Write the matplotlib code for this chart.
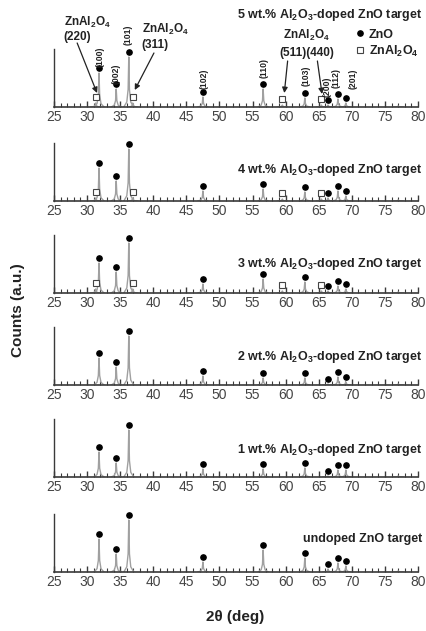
import matplotlib
matplotlib.use("Agg")
import matplotlib.pyplot as plt
import numpy as np
from matplotlib.lines import Line2D

plt.rcParams['font.family'] = ['Liberation Sans', 'DejaVu Sans']
plt.rcParams['mathtext.fontset'] = 'custom'
plt.rcParams['mathtext.rm'] = 'Liberation Sans:bold'
plt.rcParams['mathtext.bf'] = 'Liberation Sans:bold'
plt.rcParams['mathtext.default'] = 'bf'

# ---- data ----
zno_pos = [31.8, 34.4, 36.3, 47.5, 56.6, 62.9, 66.4, 67.9, 69.1]
spinel_pos = [31.3, 36.9, 59.5, 65.4]
samples = ["5 wt.% Al$_2$O$_3$-doped ZnO target",
           "4 wt.% Al$_2$O$_3$-doped ZnO target",
           "3 wt.% Al$_2$O$_3$-doped ZnO target",
           "2 wt.% Al$_2$O$_3$-doped ZnO target",
           "1 wt.% Al$_2$O$_3$-doped ZnO target",
           "undoped ZnO target"]
zno_int_5 = [34, 18, 50, 10, 18, 9, 2, 8, 4]
zno_int_4 = [33, 20, 52, 10, 12, 9, 3, 10, 5]
zno_int_3 = [30, 21, 50, 9, 14, 11, 2, 7, 4]
zno_int_2 = [27, 18, 49, 9, 7, 7, 1, 8, 3]
zno_int_1 = [25, 14, 47, 8, 8, 9, 1, 7, 7]
zno_int_0 = [33, 18, 52, 10, 22, 14, 3, 9, 6]
spinel_int_5 = [4, 4, 2, 2]
spinel_int_4 = [3, 3, 2, 2]
spinel_int_3 = [4, 4, 2, 2]
minor_pos = [77.0]
minor_int = [1]
zno_hkl = ["(100)", "(002)", "(101)", "(102)", "(110)", "(103)", "(200)", "(112)", "(201)"]
xticks = [25, 30, 35, 40, 45, 50, 55, 60, 65, 70, 75, 80]

zno_ints = [zno_int_5, zno_int_4, zno_int_3, zno_int_2, zno_int_1, zno_int_0]
spinel_ints = [spinel_int_5, spinel_int_4, spinel_int_3, None, None, None]

# ---- layout ----
W, H = 427, 631
fig = plt.figure(figsize=(W / 100, H / 100), dpi=100)
x0_px, x1_px = 54, 418
axis_px = [107, 201, 293, 385, 477, 572]
panel_h = 58
title_dy = [92, 31, 29, 28, 27, 33]

line_col = '#a0a0a0'
spine_col = '#3a3a3a'
prof_dx = np.array([-0.75, -0.3, -0.1, 0.0, 0.1, 0.3, 0.75])
prof_fy = np.array([0.0, 0.1, 0.35, 1.0, 0.35, 0.1, 0.0])

def draw_peak(ax, p, h):
    ax.plot(p + prof_dx, h * prof_fy, color=line_col, lw=1.0, solid_joinstyle='round')

axes = []
for i, yb in enumerate(axis_px):
    ax = fig.add_axes([x0_px / W, 1 - yb / H, (x1_px - x0_px) / W, panel_h / H])
    axes.append(ax)
    ax.set_xlim(25, 80)
    ax.set_ylim(0, panel_h)
    for s in ['top', 'right']:
        ax.spines[s].set_visible(False)
    ax.spines['left'].set_color(spine_col)
    ax.spines['bottom'].set_color(spine_col)
    ax.spines['left'].set_linewidth(1.0)
    ax.spines['bottom'].set_linewidth(1.2)
    ax.set_yticks([])
    ax.set_xticks(xticks)
    ax.set_xticks(np.arange(25, 81, 1), minor=True)
    ax.tick_params(axis='x', which='major', direction='in', length=4, width=1.0,
                   color=spine_col, labelsize=10, labelcolor='#444444', pad=2.5)
    ax.tick_params(axis='x', which='minor', direction='in', length=2.8, width=0.8,
                   color=spine_col)
    ax.patch.set_alpha(0)

    # spectrum
    ax.plot([25, 80], [0.3, 0.3], color=line_col, lw=0.8)
    for p, h in zip(zno_pos, zno_ints[i]):
        draw_peak(ax, p, h)
    for p, h in zip(minor_pos, minor_int):
        draw_peak(ax, p, h)
    if spinel_ints[i] is not None:
        for p, h in zip(spinel_pos, spinel_ints[i]):
            draw_peak(ax, p, h)
        ax.plot(spinel_pos, np.array(spinel_ints[i]) + 6, ls='none', marker='s',
                ms=4, mfc='white', mec='#444444', mew=0.8, clip_on=False)
    ax.plot(zno_pos, np.array(zno_ints[i]) + 5, ls='none', marker='o', ms=3.8,
            color='black', clip_on=False)

    ax.text(80.6, title_dy[i], samples[i], ha='right', va='center',
            fontsize=9, fontweight='bold', color='#222222', clip_on=False)

# ---- panel 1 annotations ----
ax = axes[0]
hkl_xy = [(31.9, 50), (34.4, 33), (36.2, 72), (47.7, 28), (56.7, 39),
          (63.1, 31), (66.2, 20), (67.7, 29), (70.2, 28)]
for lab, (x, y) in zip(zno_hkl, hkl_xy):
    ax.text(x, y, lab, rotation=90, ha='center', va='center', fontsize=6.3,
            fontweight='bold', color='#222222', clip_on=False)

txt_kw = dict(fontsize=8.5, fontweight='bold', color='#222222', clip_on=False, va='center')
ax.text(26.5, 85, "ZnAl$_2$O$_4$", ha='left', **txt_kw)
ax.text(26.4, 70, "(220)", ha='left', **txt_kw)
ax.text(38.3, 78, "ZnAl$_2$O$_4$", ha='left', **txt_kw)
ax.text(38.2, 62, "(311)", ha='left', **txt_kw)
ax.text(63.2, 72, "ZnAl$_2$O$_4$", ha='center', **txt_kw)
ax.text(63.2, 54, "(511)(440)", ha='center', **txt_kw)

arr = dict(arrowstyle='-|>', color='#222222', lw=0.9, mutation_scale=8,
           shrinkA=0, shrinkB=0)
for (tx, ty), (hx, hy) in [((28.5, 64), (31.5, 14)), ((40.1, 54), (37.2, 17)),
                           ((60.3, 46), (59.8, 14)), ((64.8, 46), (65.5, 13))]:
    ax.annotate("", xy=(hx, hy), xytext=(tx, ty), arrowprops=arr,
                annotation_clip=False)

handles = [Line2D([], [], ls='none', marker='o', ms=3.8, color='black'),
           Line2D([], [], ls='none', marker='s', ms=4, mfc='white', mec='#444444', mew=0.8)]
leg = ax.legend(handles, ["ZnO", "ZnAl$_2$O$_4$"], loc='center left',
                bbox_to_anchor=(0.83, 1.09), frameon=False, handlelength=0.6,
                handletextpad=0.4, labelspacing=0.25, borderpad=0, borderaxespad=0,
                prop={'weight': 'bold', 'size': 9})
for t in leg.get_texts():
    t.set_color('#222222')

fig.text(18 / W, 1 - 310 / H, "Counts (a.u.)", rotation=90, ha='center', va='center',
         fontsize=11, fontweight='bold', color='#222222')
fig.text(235 / W, 1 - 617 / H, "2θ (deg)", ha='center', va='center',
         fontsize=11, fontweight='bold', color='#222222')

fig.savefig("out.png", dpi=100)
